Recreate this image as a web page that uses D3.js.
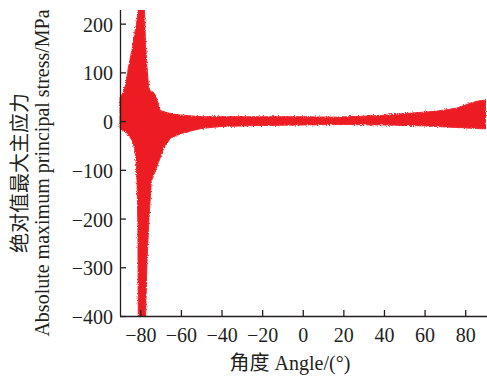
<!DOCTYPE html>
<html>
<head>
<meta charset="utf-8">
<script src="https://cdn.jsdelivr.net/npm/d3@7"></script>
<style>
  body { margin: 0; background: #fff; }
  svg { display: block; }
  .axis path, .axis line { stroke: #231f20; stroke-width: 1.3; }
</style>
</head>
<body>
<div id="chart-area"></div>
<script>
// upper edge of the stress band (deg, MPa)
var upperAngle  = [-90, -88.5, -87.2, -85.8, -84.1, -82.8, -81.6, -80.8, -78.0, -77.5, -76.7, -75.9, -75.1, -74.0, -72.8, -71.8, -70.2, -67.7, -62, -56, -50, -40, -20, 0, 15, 30, 40, 46, 55, 62, 67, 72, 76, 80, 83, 86, 90];
var upperStress = [48, 58, 75, 111, 146, 180, 207, 240, 240, 166, 111, 70, 62, 60, 55, 43, 22, 18, 13, 11, 9, 9, 9, 9, 8, 10, 12, 14, 17, 19, 21, 24, 27, 33, 37, 41, 43];

// lower edge of the stress band (deg, MPa)
var lowerAngle  = [-90, -86.6, -84.1, -82.8, -82.1, -81.6, -81.2, -81.0, -77.5, -76.8, -75.9, -74.6, -70.9, -68.5, -65.2, -59.5, -52.9, -49.6, -40, -20, 0, 20, 40, 50, 60, 70, 80, 90];
var lowerStress = [-15, -25, -39, -56, -83, -124, -213, -420, -420, -300, -213, -124, -83, -56, -35, -25, -18, -15, -11, -9, -8, -7, -8, -9, -10, -12, -14, -16];

var xTicks = [-80, -60, -40, -20, 0, 20, 40, 60, 80];
var yTicks = [-400, -300, -200, -100, 0, 100, 200];

var width = 487, height = 378;
var plotLeft = 120, plotRight = 485.5, plotTop = 10, plotBottom = 316;
var serif = "'Liberation Serif', serif";
var cjk = "'Liberation Serif', 'Noto Sans CJK SC', serif";

var svg = d3.select("#chart-area").append("svg")
    .attr("width", width)
    .attr("height", height);

var x = d3.scaleLinear().domain([-90, 90]).range([plotLeft, plotRight]);
var y = d3.scaleLinear().domain([-400, 228]).range([plotBottom, plotTop]);

var defs = svg.append("defs");
defs.append("clipPath").attr("id", "plot-clip")
  .append("rect")
    .attr("x", plotLeft - 2).attr("y", plotTop)
    .attr("width", width - plotLeft + 2).attr("height", plotBottom - plotTop);

// rough edge like a cloud of tiny markers
var rough = defs.append("filter").attr("id", "rough")
    .attr("x", "-5%").attr("y", "-5%").attr("width", "110%").attr("height", "110%");
rough.append("feTurbulence")
    .attr("type", "fractalNoise").attr("baseFrequency", 0.9)
    .attr("numOctaves", 2).attr("seed", 3).attr("result", "noise");
rough.append("feDisplacementMap")
    .attr("in", "SourceGraphic").attr("in2", "noise")
    .attr("scale", 3).attr("xChannelSelector", "R").attr("yChannelSelector", "G");

// band outline: upper edge left to right, lower edge back
var pts = upperAngle.map(function(a, i) { return [x(a), y(upperStress[i])]; });
for (var i = lowerAngle.length - 1; i >= 0; i--) {
  pts.push([x(lowerAngle[i]), y(lowerStress[i])]);
}

svg.append("g")
    .attr("clip-path", "url(#plot-clip)")
  .append("path")
    .attr("d", d3.line()(pts) + "Z")
    .attr("fill", "#ed1c24")
    .attr("stroke", "#ef2a32")
    .attr("stroke-width", 1)
    .attr("filter", "url(#rough)");

// axes
var xAxis = svg.append("g")
    .attr("class", "axis")
    .attr("transform", "translate(0," + plotBottom + ")")
    .call(d3.axisBottom(x).tickValues(xTicks).tickSize(-6).tickSizeOuter(0).tickPadding(12));

var yAxis = svg.append("g")
    .attr("class", "axis")
    .attr("transform", "translate(" + plotLeft + ",0)")
    .call(d3.axisLeft(y).tickValues(yTicks).tickSize(-6).tickSizeOuter(0).tickPadding(7));

svg.selectAll(".axis")
    .attr("font-family", serif)
    .attr("font-size", 20);
svg.selectAll(".axis .tick text").attr("fill", "#231f20");

xAxis.select(".domain").attr("d", "M" + plotLeft + ",0.5H" + width);
yAxis.select(".domain").attr("d", "M0.5," + plotTop + "V" + plotBottom);
yAxis.selectAll(".tick text").attr("dy", "0.38em");

// axis titles
svg.append("text")
    .attr("x", 290).attr("y", 370)
    .attr("text-anchor", "middle")
    .attr("font-family", cjk)
    .attr("font-size", 20)
    .attr("fill", "#231f20")
    .text("角度 Angle/(°)");

svg.append("text")
    .attr("transform", "translate(27,173) rotate(-90)")
    .attr("text-anchor", "middle")
    .attr("font-family", cjk)
    .attr("font-size", 20)
    .attr("fill", "#231f20")
    .text("绝对值最大主应力");

svg.append("text")
    .attr("transform", "translate(49,173) rotate(-90)")
    .attr("text-anchor", "middle")
    .attr("font-family", serif)
    .attr("font-size", 20)
    .attr("fill", "#231f20")
    .text("Absolute maximum principal stress/MPa");
</script>
</body>
</html>
